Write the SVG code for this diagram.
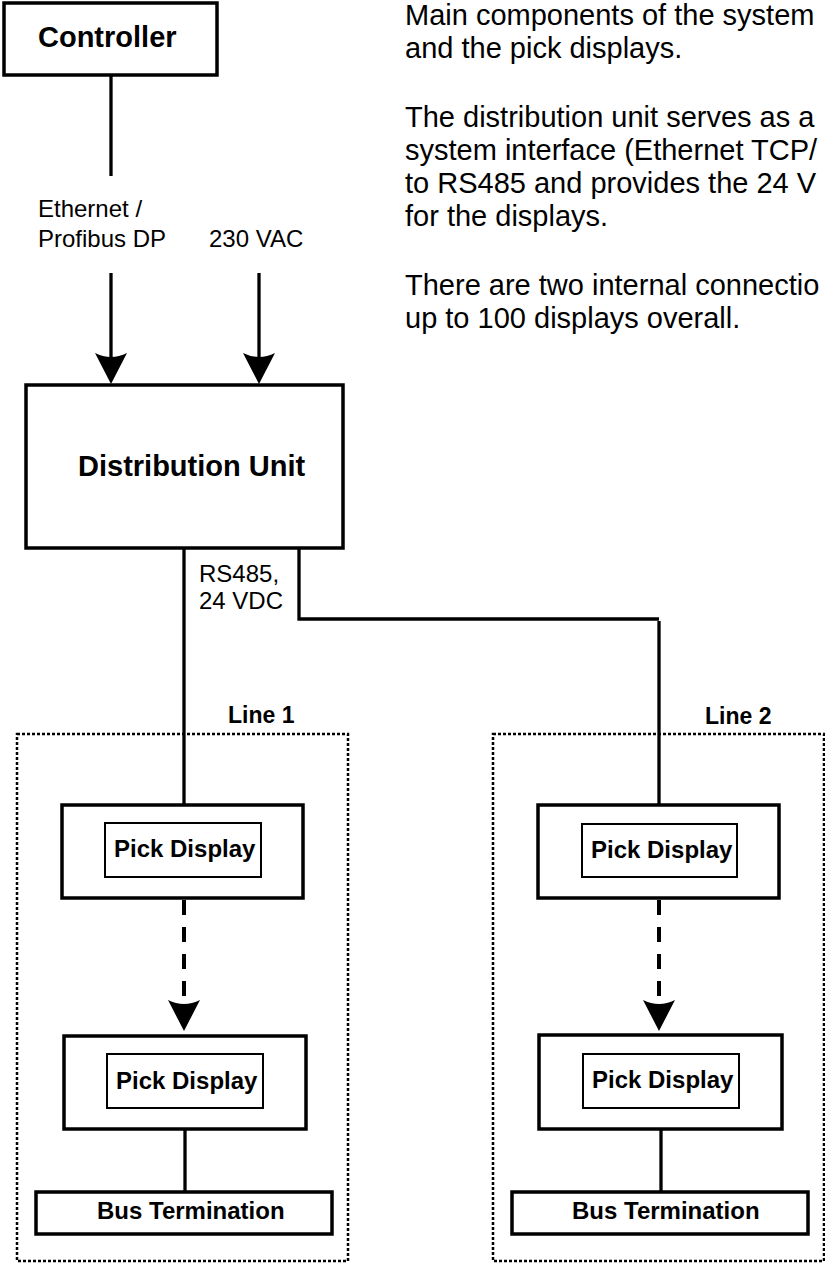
<svg xmlns="http://www.w3.org/2000/svg" width="825" height="1265" viewBox="0 0 825 1265">
<style>
  text { font-family: "Liberation Sans", Arial, sans-serif; fill: #000; }
  .title { font-size: 29px; font-weight: bold; }
  .body { font-size: 29px; }
  .lbl { font-size: 24px; }
  .pd { font-size: 24px; font-weight: bold; }
  .line { font-size: 23px; font-weight: bold; }
  .box { fill: #fff; stroke: #000; stroke-width: 3.5; }
  .inner { fill: #fff; stroke: #000; stroke-width: 2; }
  .grp { fill: none; stroke: #000; stroke-width: 2.5; stroke-dasharray: 3 2; }
  .conn { fill: none; stroke: #000; stroke-width: 3.3; }
  .dash { fill: none; stroke: #000; stroke-width: 4; stroke-dasharray: 15 12; }
  .head { fill: #000; stroke: none; }
</style>
<defs>
  <path id="ah" d="M-16,0 Q0,8 16,0 L0,31 Z"/>
</defs>

<g id="description">
  <text class="body" x="405" y="25">Main components of the system</text>
  <text class="body" x="405" y="58">and the pick displays.</text>
  <text class="body" x="405" y="127">The distribution unit serves as a</text>
  <text class="body" x="405" y="160">system interface (Ethernet TCP/</text>
  <text class="body" x="405" y="193">to RS485 and provides the 24 V</text>
  <text class="body" x="405" y="226">for the displays.</text>
  <text class="body" x="405" y="295">There are two internal connectio</text>
  <text class="body" x="405" y="328">up to 100 displays overall.</text>
</g>

<g id="line1-group">
  <rect class="grp" x="17" y="734" width="331" height="527"/>
  <text class="line" x="228" y="723">Line 1</text>
</g>
<g id="line2-group">
  <rect class="grp" x="493" y="734" width="331" height="527"/>
  <text class="line" x="705" y="724">Line 2</text>
</g>

<g id="connectors">
  <line class="conn" x1="111" y1="75" x2="111" y2="176"/>
  <line class="conn" x1="111" y1="273" x2="111" y2="360"/>
  <use href="#ah" class="head" x="111" y="353"/>
  <line class="conn" x1="259" y1="273" x2="259" y2="360"/>
  <use href="#ah" class="head" x="259" y="353"/>
  <line class="conn" x1="184" y1="548" x2="184" y2="805"/>
  <path class="conn" d="M299,548 V619 H659 M659,621 V805"/>
  <line class="dash" x1="184" y1="900" x2="184" y2="998"/>
  <use href="#ah" class="head" x="184" y="1000"/>
  <line class="dash" x1="659" y1="900" x2="659" y2="998"/>
  <use href="#ah" class="head" x="659" y="1000"/>
  <line class="conn" x1="185" y1="1129" x2="185" y2="1192"/>
  <line class="conn" x1="661" y1="1129" x2="661" y2="1192"/>
  <text class="lbl" x="38" y="217">Ethernet /</text>
  <text class="lbl" x="38" y="247">Profibus DP</text>
  <text class="lbl" x="209" y="247">230 VAC</text>
  <text class="lbl" x="199" y="582">RS485,</text>
  <text class="lbl" x="199" y="609">24 VDC</text>
</g>

<g id="controller">
  <rect class="box" x="4" y="3" width="213" height="72"/>
  <text class="title" x="38" y="47">Controller</text>
</g>

<g id="distribution-unit">
  <rect class="box" x="26" y="385" width="317" height="163"/>
  <text class="title" x="78" y="476">Distribution Unit</text>
</g>

<g id="line1-pick-display-1">
  <rect class="box" x="62" y="805" width="241" height="93"/>
  <rect class="inner" x="105" y="823" width="156" height="54"/>
  <text class="pd" x="114" y="857">Pick Display</text>
</g>
<g id="line1-pick-display-2">
  <rect class="box" x="64" y="1036" width="242" height="93"/>
  <rect class="inner" x="107" y="1054" width="156" height="54"/>
  <text class="pd" x="116" y="1089">Pick Display</text>
</g>
<g id="line1-bus-termination">
  <rect class="box" x="36" y="1192" width="296" height="42"/>
  <text class="pd" x="97" y="1219">Bus Termination</text>
</g>

<g id="line2-pick-display-1">
  <rect class="box" x="538" y="805" width="241" height="93"/>
  <rect class="inner" x="582" y="824" width="155" height="53"/>
  <text class="pd" x="591" y="858">Pick Display</text>
</g>
<g id="line2-pick-display-2">
  <rect class="box" x="539" y="1035" width="243" height="94"/>
  <rect class="inner" x="583" y="1054" width="156" height="54"/>
  <text class="pd" x="592" y="1088">Pick Display</text>
</g>
<g id="line2-bus-termination">
  <rect class="box" x="512" y="1192" width="296" height="42"/>
  <text class="pd" x="572" y="1219">Bus Termination</text>
</g>
</svg>
